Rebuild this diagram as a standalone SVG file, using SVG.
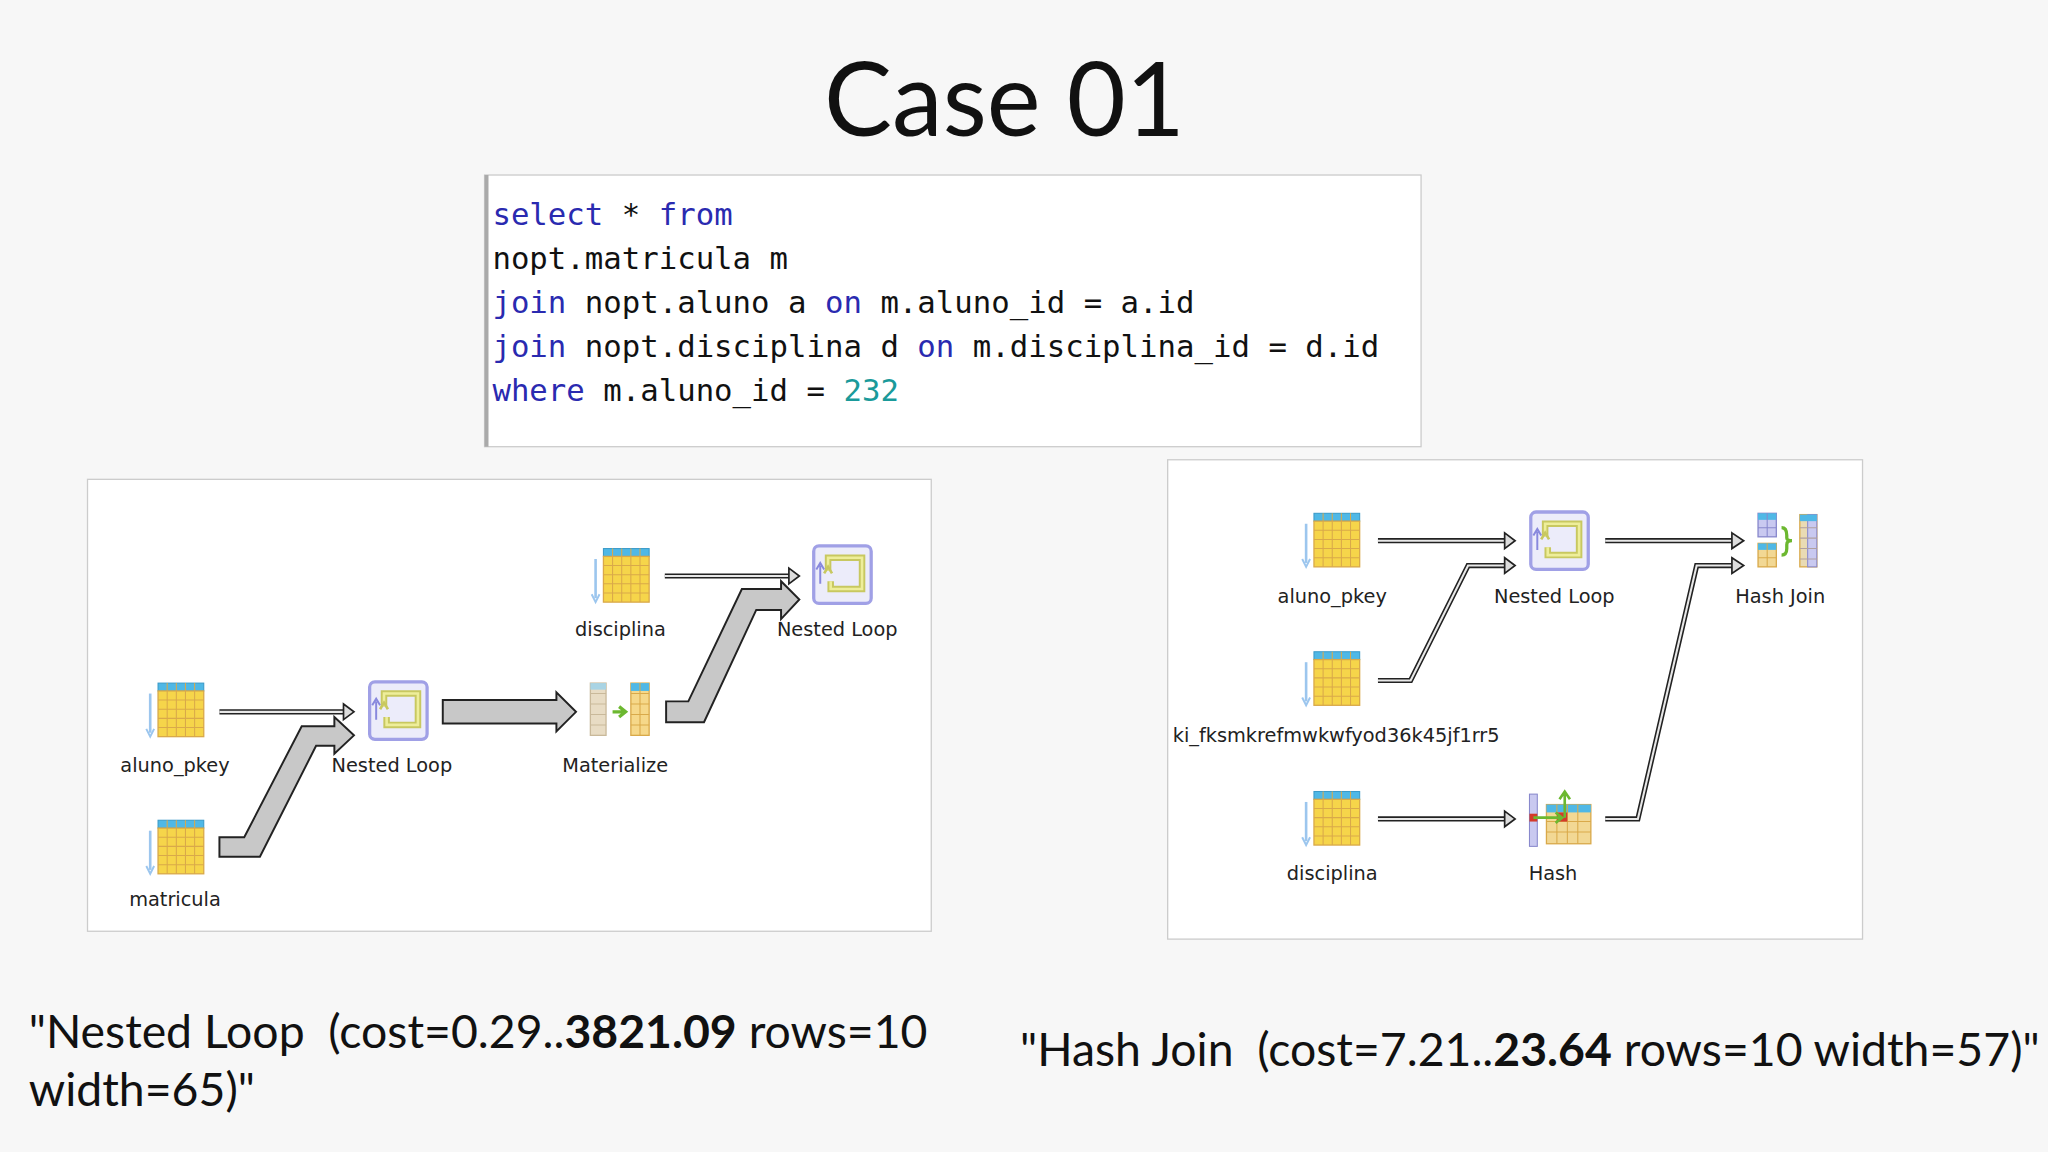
<svg xmlns="http://www.w3.org/2000/svg" xmlns:xlink="http://www.w3.org/1999/xlink" width="2048" height="1152" viewBox="0 0 2048 1152">
<style>
.lbl{font-family:"DejaVu Sans",sans-serif;font-size:14.8px;fill:#222;text-anchor:middle}
.code{font-family:"DejaVu Sans Mono",monospace;font-size:23.5px;fill:#111}
.kw{fill:#2a2ab0}
.num{fill:#1a9a9a}
.big{font-family:Lato,"Open Sans",sans-serif;font-size:35.5px;fill:#111;white-space:pre}
.thick{fill:#c8c8c8;stroke:#222;stroke-width:1.5}
.tw{fill:none;stroke:#222;stroke-width:4}
.ti{fill:none;stroke:#e8e8e8;stroke-width:1.6}
.th{fill:#ddd;stroke:#222;stroke-width:1.3}
</style>
<defs>
<symbol id="tbl" viewBox="0 0 45 42" width="45" height="42" overflow="visible">
<line x1="3" y1="8" x2="3" y2="38" stroke="#9cc6ee" stroke-width="2"/>
<path d="M0,35 L3,41 L6,35" fill="none" stroke="#9cc6ee" stroke-width="1.5"/>
<rect x="9" y="0" width="35" height="6" fill="#4fb8e6" stroke="#3a9ac8" stroke-width="0.8"/>
<rect x="9" y="6" width="35" height="35" fill="#f6d54a" stroke="#d9a94a" stroke-width="1"/>
<path d="M16,0V41M23,0V41M30,0V41M37,0V41M9,13H44M9,20H44M9,27H44M9,34H44" stroke="#d9a94a" stroke-width="0.8"/>
</symbol>
<symbol id="nl" viewBox="0 0 46 46" width="46" height="46" overflow="visible">
<rect x="1" y="1" width="44" height="44" rx="4" fill="#ececfa" stroke="#a0a0e6" stroke-width="2.5"/>
<path d="M14,28V34H38V10H12V20" fill="none" stroke="#c8c860" stroke-width="5"/>
<path d="M14,28V34H38V10H12V20" fill="none" stroke="#eeee9a" stroke-width="2"/>
<path d="M9,22L12,17L15,22" fill="none" stroke="#c8c860" stroke-width="2"/>
<path d="M6,30V16M3,19L6,14L9,19" fill="none" stroke="#8888dd" stroke-width="1.5"/>
</symbol>
</defs>
<rect width="2048" height="1152" fill="#f7f7f7"/>
<g transform="scale(1.306122)">
<g id="title"><text x="769" y="104" font-family="Lato,'Open Sans',sans-serif" font-size="78" text-anchor="middle" fill="#111">Case 01</text></g>
<g id="code">
<rect x="371" y="134" width="717" height="208" fill="#fff" stroke="#ccc" stroke-width="1"/>
<rect x="371" y="134" width="3" height="208" fill="#aaa"/>
<text class="code" x="377" y="172"><tspan class="kw">select</tspan> * <tspan class="kw">from</tspan></text>
<text class="code" x="377" y="206">nopt.matricula m</text>
<text class="code" x="377" y="240"><tspan class="kw">join</tspan> nopt.aluno a <tspan class="kw">on</tspan> m.aluno_id = a.id</text>
<text class="code" x="377" y="273"><tspan class="kw">join</tspan> nopt.disciplina d <tspan class="kw">on</tspan> m.disciplina_id = d.id</text>
<text class="code" x="377" y="307"><tspan class="kw">where</tspan> m.aluno_id = <tspan class="num">232</tspan></text>
</g>
<rect x="67" y="367" width="646" height="346" fill="#fff" stroke="#ccc"/>
<rect x="894" y="352" width="532" height="367" fill="#fff" stroke="#ccc"/>
<g id="connectors">
<path class="tw" d="M168,545H264"/><path class="ti" d="M168,545H264"/>
<path class="th" d="M263,539L271,545L263,551Z"/>
<polygon class="thick" points="168,641 187,641 231,556 256,556 256,549 271,563 256,577 256,571 242,571 199,656 168,656"/>
<polygon class="thick" points="339,536 426,536 426,530 441,545 426,560 426,554 339,554"/>
<polygon class="thick" points="510,537 527,537 568,451 598,451 598,445 612,459 598,474 598,467 579,467 539,553 510,553"/>
<path class="tw" d="M509,441H605"/><path class="ti" d="M509,441H605"/>
<path class="th" d="M604,435L612,441L604,447Z"/>
<path class="tw" d="M1055,414H1153"/><path class="ti" d="M1055,414H1153"/>
<path class="th" d="M1152,408L1160,414L1152,420Z"/>
<path class="tw" d="M1055,521H1080L1124,433H1153"/><path class="ti" d="M1055,521H1080L1124,433H1153"/>
<path class="th" d="M1152,427L1160,433L1152,439Z"/>
<path class="tw" d="M1229,414H1327"/><path class="ti" d="M1229,414H1327"/>
<path class="th" d="M1326,408L1335,414L1326,420Z"/>
<path class="tw" d="M1055,627H1153"/><path class="ti" d="M1055,627H1153"/>
<path class="th" d="M1152,621L1160,627L1152,633Z"/>
<path class="tw" d="M1229,627H1254L1299,433H1327"/><path class="ti" d="M1229,627H1254L1299,433H1327"/>
<path class="th" d="M1326,427L1335,433L1326,439Z"/>
</g>
<g id="l_aluno"><use xlink:href="#tbl" x="112" y="523"/><text class="lbl" x="134" y="591">aluno_pkey</text></g>
<g id="l_matricula"><use xlink:href="#tbl" x="112" y="628"/><text class="lbl" x="134" y="694">matricula</text></g>
<g id="l_nl1"><use xlink:href="#nl" x="282" y="521"/><text class="lbl" x="300" y="591">Nested Loop</text></g>
<g id="l_mat">
<rect x="452" y="523" width="12" height="40" fill="#e8dcc4" stroke="#c9b99a"/>
<rect x="452" y="523" width="12" height="5" fill="#a9d4e4"/>
<path d="M452,531H464M452,539H464M452,547H464M452,555H464" stroke="#c9b99a" stroke-width="0.8"/>
<path d="M469,545H477M474,541L479,545L474,549" fill="none" stroke="#6cb830" stroke-width="2.5"/>
<rect x="483" y="523" width="14" height="40" fill="#f6d88a" stroke="#d9a94a"/>
<rect x="483" y="523" width="14" height="6" fill="#4fb8e6"/>
<path d="M483,531H497M483,539H497M483,547H497M483,555H497M490,523V563" stroke="#d9a94a" stroke-width="0.8"/>
<text class="lbl" x="471" y="591">Materialize</text></g>
<g id="l_disc"><use xlink:href="#tbl" x="453" y="420"/><text class="lbl" x="475" y="487">disciplina</text></g>
<g id="l_nl2"><use xlink:href="#nl" x="622" y="417"/><text class="lbl" x="641" y="487">Nested Loop</text></g>
<g id="r_aluno"><use xlink:href="#tbl" x="997" y="393"/><text class="lbl" x="1020" y="462">aluno_pkey</text></g>
<g id="r_ki"><use xlink:href="#tbl" x="997" y="499"/>
<svg x="895" y="550" width="530" height="30"><text class="lbl" x="128" y="18">ki_fksmkrefmwkwfyod36k45jf1rr5</text></svg></g>
<g id="r_disc"><use xlink:href="#tbl" x="997" y="606"/><text class="lbl" x="1020" y="674">disciplina</text></g>
<g id="r_nl"><use xlink:href="#nl" x="1171" y="391"/><text class="lbl" x="1190" y="462">Nested Loop</text></g>
<g id="r_hash">
<rect x="1171" y="608" width="6" height="40" fill="#c9c9f0" stroke="#8888cc" stroke-width="0.8"/>
<rect x="1171" y="623" width="6" height="6" fill="#d43a2a"/>
<rect x="1184" y="616" width="34" height="30" fill="#f2d894" stroke="#d9a94a"/>
<rect x="1184" y="616" width="34" height="6" fill="#4fb8e6"/>
<path d="M1192,616V646M1200,616V646M1208,616V646M1184,629H1218M1184,637H1218" stroke="#d9a94a" stroke-width="0.8"/>
<rect x="1192" y="622" width="8" height="7" fill="#d43a2a"/>
<path d="M1174,626H1195M1191,622L1196,626L1191,630M1198,626V608M1194,612L1198,606L1202,612" fill="none" stroke="#6cb830" stroke-width="2"/>
<text class="lbl" x="1189" y="674">Hash</text></g>
<g id="r_hj">
<rect x="1346" y="393" width="14" height="18" fill="#c9c9f0" stroke="#8888cc"/>
<rect x="1346" y="393" width="14" height="5" fill="#4fb8e6"/>
<path d="M1353,393V411M1346,404H1360" stroke="#8888cc" stroke-width="0.8"/>
<rect x="1346" y="416" width="14" height="18" fill="#f2d894" stroke="#d9a94a"/>
<rect x="1346" y="416" width="14" height="5" fill="#4fb8e6"/>
<path d="M1353,416V434M1346,427H1360" stroke="#d9a94a" stroke-width="0.8"/>
<path d="M1364,404Q1368,404 1368,410V412Q1368,414 1372,414Q1368,414 1368,417V420Q1368,425 1364,425" fill="none" stroke="#6cb830" stroke-width="2.5"/>
<rect x="1378" y="394" width="13" height="40" fill="#e9dbb4" stroke="#d9a94a"/>
<rect x="1384" y="394" width="7" height="40" fill="#c9c9f0" stroke="#8888cc" stroke-width="0.8"/>
<rect x="1378" y="394" width="13" height="5" fill="#4fb8e6"/>
<path d="M1378,404H1391M1378,412H1391M1378,420H1391M1378,428H1391" stroke="#b0a0a0" stroke-width="0.8"/>
<text class="lbl" x="1363" y="462">Hash Join</text></g>
<g id="captions">
<text class="big" x="22" y="802" xml:space="preserve">"Nested Loop  (cost=0.29..<tspan font-weight="bold">3821.09</tspan> rows=10</text>
<text class="big" x="22" y="847">width=65)"</text>
<text class="big" x="781" y="816" xml:space="preserve">"Hash Join  (cost=7.21..<tspan font-weight="bold">23.64</tspan> rows=10 width=57)"</text>
</g>
</g>
</svg>
